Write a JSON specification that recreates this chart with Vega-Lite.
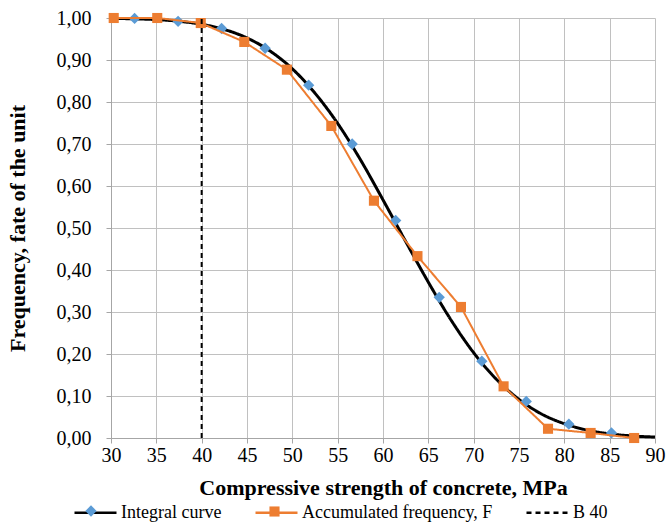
{
  "$schema": "https://vega.github.io/schema/vega-lite/v6.json",
  "width": 544,
  "height": 420,
  "autosize": {"type": "none"},
  "padding": {"left": 111, "top": 18, "right": 13, "bottom": 84},
  "background": "white",
  "config": {"view": {"stroke": null}, "font": "Liberation Serif"},
  "datasets": {
    "curve": [
      {"x": 30, "y": 0.9992, "series": "Integral curve"},
      {"x": 32.5, "y": 0.998, "series": "Integral curve"},
      {"x": 35, "y": 0.9962, "series": "Integral curve"},
      {"x": 37.5, "y": 0.9922, "series": "Integral curve"},
      {"x": 40, "y": 0.985, "series": "Integral curve"},
      {"x": 42.5, "y": 0.9726, "series": "Integral curve"},
      {"x": 45, "y": 0.9525, "series": "Integral curve"},
      {"x": 47.5, "y": 0.922, "series": "Integral curve"},
      {"x": 50, "y": 0.879, "series": "Integral curve"},
      {"x": 52.5, "y": 0.821, "series": "Integral curve"},
      {"x": 55, "y": 0.749, "series": "Integral curve"},
      {"x": 57.5, "y": 0.663, "series": "Integral curve"},
      {"x": 60, "y": 0.567, "series": "Integral curve"},
      {"x": 62.5, "y": 0.468, "series": "Integral curve"},
      {"x": 65, "y": 0.371, "series": "Integral curve"},
      {"x": 67.5, "y": 0.281, "series": "Integral curve"},
      {"x": 70, "y": 0.203, "series": "Integral curve"},
      {"x": 72.5, "y": 0.14, "series": "Integral curve"},
      {"x": 75, "y": 0.092, "series": "Integral curve"},
      {"x": 77.5, "y": 0.057, "series": "Integral curve"},
      {"x": 80, "y": 0.034, "series": "Integral curve"},
      {"x": 82.5, "y": 0.019, "series": "Integral curve"},
      {"x": 85, "y": 0.0099, "series": "Integral curve"},
      {"x": 87.5, "y": 0.0049, "series": "Integral curve"},
      {"x": 90, "y": 0.0023, "series": "Integral curve"}
    ],
    "accum": [
      {"x": 30.3, "y": 1.0, "series": "Accumulated frequency, F"},
      {"x": 35.1, "y": 1.0, "series": "Accumulated frequency, F"},
      {"x": 39.9, "y": 0.988, "series": "Accumulated frequency, F"},
      {"x": 44.7, "y": 0.943, "series": "Accumulated frequency, F"},
      {"x": 49.4, "y": 0.877, "series": "Accumulated frequency, F"},
      {"x": 54.3, "y": 0.743, "series": "Accumulated frequency, F"},
      {"x": 59.0, "y": 0.565, "series": "Accumulated frequency, F"},
      {"x": 63.8, "y": 0.433, "series": "Accumulated frequency, F"},
      {"x": 68.6, "y": 0.312, "series": "Accumulated frequency, F"},
      {"x": 73.3, "y": 0.123, "series": "Accumulated frequency, F"},
      {"x": 78.2, "y": 0.022, "series": "Accumulated frequency, F"},
      {"x": 82.9, "y": 0.012, "series": "Accumulated frequency, F"},
      {"x": 87.7, "y": 0.0, "series": "Accumulated frequency, F"}
    ],
    "b40": [
      {"x": 40, "y": 0, "series": "B 40"},
      {"x": 40, "y": 1, "series": "B 40"}
    ],
    "blue": [
      {"x": 32.6, "y": 0.999, "marker": "Integral curve"},
      {"x": 37.4, "y": 0.992, "marker": "Integral curve"},
      {"x": 42.2, "y": 0.975, "marker": "Integral curve"},
      {"x": 47.0, "y": 0.928, "marker": "Integral curve"},
      {"x": 51.8, "y": 0.84, "marker": "Integral curve"},
      {"x": 56.6, "y": 0.7, "marker": "Integral curve"},
      {"x": 61.4, "y": 0.518, "marker": "Integral curve"},
      {"x": 66.2, "y": 0.335, "marker": "Integral curve"},
      {"x": 70.9, "y": 0.183, "marker": "Integral curve"},
      {"x": 75.8, "y": 0.087, "marker": "Integral curve"},
      {"x": 80.5, "y": 0.033, "marker": "Integral curve"},
      {"x": 85.2, "y": 0.012, "marker": "Integral curve"}
    ]
  },
  "encoding": {
    "x": {
      "field": "x",
      "type": "quantitative",
      "scale": {"domain": [30, 90], "nice": false, "zero": false},
      "axis": {
        "values": [30, 35, 40, 45, 50, 55, 60, 65, 70, 75, 80, 85, 90],
        "title": "Compressive strength of concrete, MPa",
        "titleFont": "Liberation Serif",
        "titleFontSize": 22,
        "titleFontWeight": "bold",
        "titleColor": "#000000",
        "titlePadding": 12,
        "labelFont": "Liberation Serif",
        "labelFontSize": 20,
        "labelColor": "#000000",
        "labelPadding": 2,
        "labelFlush": false,
        "labelOverlap": false,
        "tickSize": 5,
        "tickColor": "#a6a6a6",
        "domainColor": "#a6a6a6",
        "gridColor": "#c0c0c0",
        "gridOpacity": 1
      }
    },
    "y": {
      "field": "y",
      "type": "quantitative",
      "scale": {"domain": [0, 1], "nice": false},
      "axis": {
        "values": [0, 0.1, 0.2, 0.3, 0.4, 0.5, 0.6, 0.7, 0.8, 0.9, 1],
        "labelExpr": "replace(format(datum.value, '.2f'), '.', ',')",
        "title": "Frequency, fate of the unit",
        "titleFont": "Liberation Serif",
        "titleFontSize": 22,
        "titleFontWeight": "bold",
        "titleColor": "#000000",
        "titlePadding": 27,
        "labelFont": "Liberation Serif",
        "labelFontSize": 20,
        "labelColor": "#000000",
        "labelPadding": 15,
        "labelFlush": false,
        "labelOverlap": false,
        "tickSize": 5,
        "tickColor": "#a6a6a6",
        "domainColor": "#a6a6a6",
        "gridColor": "#c0c0c0",
        "gridOpacity": 1
      }
    }
  },
  "resolve": {"scale": {"shape": "independent"}, "legend": {"shape": "independent"}},
  "layer": [
    {
      "data": {"name": "curve"},
      "mark": {"type": "line", "strokeWidth": 3, "interpolate": "monotone"},
      "encoding": {
        "stroke": {
          "field": "series",
          "type": "nominal",
          "scale": {"domain": ["Integral curve", "Accumulated frequency, F", "B 40"], "range": ["#000000", "#ED7D31", "#000000"]},
          "legend": {
            "orient": "none",
            "legendX": -38,
            "legendY": 472,
            "direction": "horizontal",
            "title": null,
            "padding": 0,
            "symbolType": "stroke",
            "symbolSize": 1764,
            "symbolStrokeWidth": 2.5,
            "labelFont": "Liberation Serif",
            "labelFontSize": 18,
            "labelColor": "#000000",
            "labelOffset": 3,
            "columnPadding": 28,
            "labelLimit": 400
          }
        },
        "strokeDash": {
          "field": "series",
          "type": "nominal",
          "scale": {"domain": ["Integral curve", "Accumulated frequency, F", "B 40"], "range": [[1, 0], [1, 0], [5, 4]]},
          "legend": {
            "orient": "none",
            "legendX": -38,
            "legendY": 472,
            "direction": "horizontal",
            "title": null,
            "padding": 0,
            "symbolType": "stroke",
            "symbolSize": 1764,
            "symbolStrokeWidth": 2.5,
            "labelFont": "Liberation Serif",
            "labelFontSize": 18,
            "labelColor": "#000000",
            "labelOffset": 3,
            "columnPadding": 28,
            "labelLimit": 400
          }
        }
      }
    },
    {
      "data": {"name": "blue"},
      "mark": {"type": "point", "filled": true, "shape": "diamond", "size": 128, "opacity": 1, "color": "#5B9BD5"},
      "encoding": {
        "shape": {
          "field": "marker",
          "type": "nominal",
          "scale": {"domain": ["Integral curve"], "range": ["diamond"]},
          "legend": {
            "orient": "none",
            "legendX": -26,
            "legendY": 487,
            "title": null,
            "padding": 0,
            "symbolSize": 128,
            "symbolFillColor": "#5B9BD5",
            "symbolStrokeWidth": 0,
            "symbolOpacity": 1,
            "labelExpr": "''",
            "labelFontSize": 1,
            "labelOffset": 0
          }
        }
      }
    },
    {
      "data": {"name": "accum"},
      "mark": {"type": "line", "strokeWidth": 2},
      "encoding": {
        "stroke": {"field": "series", "type": "nominal"},
        "strokeDash": {"field": "series", "type": "nominal"}
      }
    },
    {
      "data": {"name": "accum"},
      "mark": {"type": "point", "filled": true, "shape": "square", "size": 102, "opacity": 1, "color": "#ED7D31"},
      "encoding": {
        "shape": {
          "field": "series",
          "type": "nominal",
          "scale": {"domain": ["Accumulated frequency, F"], "range": ["square"]},
          "legend": {
            "orient": "none",
            "legendX": 158,
            "legendY": 488,
            "title": null,
            "padding": 0,
            "symbolSize": 102,
            "symbolFillColor": "#ED7D31",
            "symbolStrokeWidth": 0,
            "symbolOpacity": 1,
            "labelExpr": "''",
            "labelFontSize": 1,
            "labelOffset": 0
          }
        }
      }
    },
    {
      "data": {"name": "b40"},
      "mark": {"type": "line", "strokeWidth": 2},
      "encoding": {
        "stroke": {"field": "series", "type": "nominal"},
        "strokeDash": {"field": "series", "type": "nominal"}
      }
    }
  ]
}
